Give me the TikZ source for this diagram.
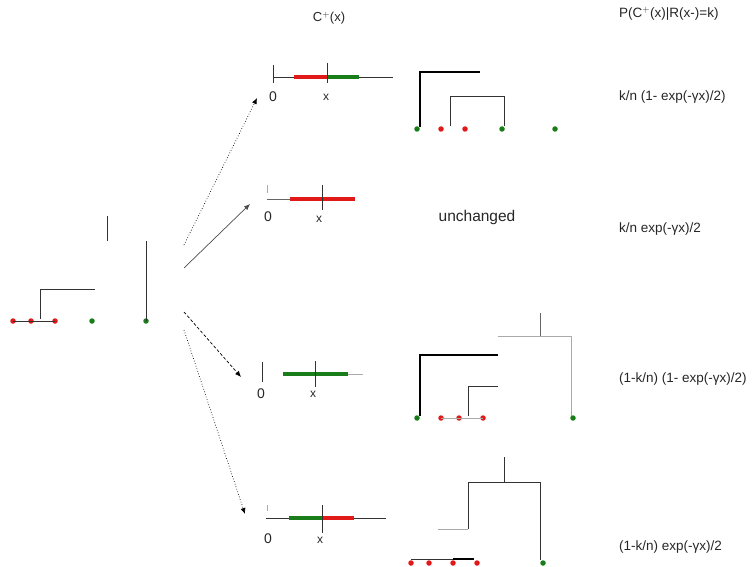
\documentclass[tikz,border=0pt]{standalone}
\usepackage{fontspec}
\setmainfont{Liberation Sans}
\usetikzlibrary{arrows.meta}
\definecolor{lred}{RGB}{225,25,25}
\definecolor{lgreen}{RGB}{25,125,25}
\definecolor{lgray}{RGB}{170,170,170}
\tikzset{
  thin line/.style={line width=0.9pt,black!80},
  heavy line/.style={line width=2.4pt,black},
  faint line/.style={line width=0.9pt,lgray},
  redseg/.style={line width=3.8pt,lred},
  greenseg/.style={line width=3.8pt,lgreen},
  rdot/.style={circle,fill=lred,inner sep=0pt,minimum size=5.5pt},
  gdot/.style={circle,fill=lgreen,inner sep=0pt,minimum size=5.5pt},
  lbl/.style={font=\fontsize{13.5}{15}\selectfont,inner sep=0pt,anchor=west,black!85},
  axlbl/.style={font=\fontsize{14}{15}\selectfont,inner sep=0pt,black!85},
  xlbl/.style={font=\fontsize{12}{13}\selectfont,inner sep=0pt,black!85},
  arr/.style={-{Latex[length=6pt,width=5pt]},line width=0.7pt},
}
\begin{document}
\begin{tikzpicture}[x=1pt,y=-1pt]
\useasboundingbox (0,0) rectangle (756,567);

% headings
\node[inner sep=0pt,font=\fontsize{13}{14}\selectfont,black!85] (hc) at (329,18) {C$^{+}$(x)};
\node[lbl] (hp) at (619,14) {P(C$^{+}$(x)|R(x-)=k)};

% starting tree
\node[rdot] (a1) at (13,321) {};
\node[rdot] (a2) at (31,321) {};
\node[rdot] (a3) at (55,321) {};
\node[gdot] (a4) at (92,321) {};
\node[gdot] (a5) at (146,321) {};
\draw[thin line] (a1.center) -- (a3.center);
\draw[thin line] (40,319) -- (40,289) -- (95,289);
\draw[thin line] (a5.center) -- (146,241);
\draw[thin line] (107,216) -- (107,241);

% branching arrows
\coordinate (s1) at (184,245);
\coordinate (s2) at (184,268);
\coordinate (s3) at (184,312);
\coordinate (s4) at (184,330);
\coordinate (t1) at (257,98);
\coordinate (t2) at (250,204);
\coordinate (t3) at (241,377);
\coordinate (t4) at (245,514);
\draw[arr,dotted] (s1) -- (t1);
\draw[arr,black!70] (s2) -- (t2);
\draw[arr,densely dashed] (s3) -- (t3);
\draw[arr,dotted] (s4) -- (t4);

% row 1 : interval
\draw[thin line] (273,65) -- (273,83);
\draw[thin line] (273,77) -- (393,77);
\draw[redseg] (294,77) -- (327,77);
\draw[greenseg] (327,77) -- (359,77);
\draw[thin line] (327,63) -- (327,83);
\node[axlbl] (z1) at (273,97) {0};
\node[xlbl] (x1) at (326,97) {x};

% row 1 : tree
\node[gdot] (b1) at (417,129) {};
\node[rdot] (b2) at (441,129) {};
\node[rdot] (b3) at (465,129) {};
\node[gdot] (b4) at (502,129) {};
\node[gdot] (b5) at (555,129) {};
\draw[heavy line] (420,127) -- (420,72) -- (480,72);
\draw[thin line] (450,126) -- (450,96) -- (504,96) -- (504,126);
\node[lbl] (p1) at (619,97) {k/n (1- exp(-γx)/2)};

% row 2 : interval
\draw[faint line,line width=0.6pt] (267,185) -- (267,193);
\draw[thin line,black!60] (267,199) -- (290,199);
\draw[redseg] (290,199) -- (355,199);
\draw[thin line] (322,185) -- (322,210);
\node[axlbl] (z2) at (268,217) {0};
\node[xlbl] (x2) at (319,219) {x};
\node[inner sep=0pt,font=\fontsize{15.5}{17}\selectfont,black!85] (un) at (477,217) {unchanged};
\node[lbl] (p2) at (619,229) {k/n exp(-γx)/2};

% row 3 : interval
\draw[thin line] (262,362) -- (262,382);
\draw[greenseg] (283,374) -- (348,374);
\draw[faint line] (348,374) -- (363,374);
\draw[thin line] (315,361) -- (315,387);
\node[axlbl] (z3) at (261,394) {0};
\node[xlbl] (x3) at (313,394) {x};

% row 3 : tree
\node[gdot] (c1) at (417,418) {};
\node[rdot] (c2) at (441,418) {};
\node[rdot] (c3) at (459,418) {};
\node[rdot] (c4) at (483,418) {};
\node[gdot] (c5) at (573,418) {};
\draw[faint line] (c2.center) -- (c4.center);
\draw[heavy line] (420,416) -- (420,355) -- (498,355);
\draw[thin line] (468,416) -- (468,386) -- (498,386);
\draw[faint line] (498,336) -- (571,336) -- (571,416);
\draw[thin line,black!60] (540,313) -- (540,336);
\node[lbl] (p3) at (619,379) {(1-k/n) (1- exp(-γx)/2)};

% row 4 : interval
\draw[faint line,line width=0.6pt] (267,505) -- (267,511);
\draw[thin line] (266,518) -- (386,518);
\draw[greenseg] (289,518) -- (322,518);
\draw[redseg] (322,518) -- (354,518);
\draw[thin line] (322,505) -- (322,533);
\node[axlbl] (z4) at (268,539) {0};
\node[xlbl] (x4) at (320,540) {x};

% row 4 : tree
\node[rdot] (d1) at (411,563) {};
\node[rdot] (d2) at (429,563) {};
\node[rdot] (d3) at (453,563) {};
\node[rdot] (d4) at (477,563) {};
\node[gdot] (d5) at (543,563) {};
\draw[thin line] (411,559) -- (453,559);
\draw[line width=2pt,black] (453,559) -- (474,559);
\draw[thin line] (504,457) -- (504,482);
\draw[thin line] (468,529) -- (468,482) -- (540,482) -- (540,560);
\draw[faint line] (438,529) -- (468,529);
\node[lbl] (p4) at (619,547) {(1-k/n) exp(-γx)/2};
\end{tikzpicture}
\end{document}
